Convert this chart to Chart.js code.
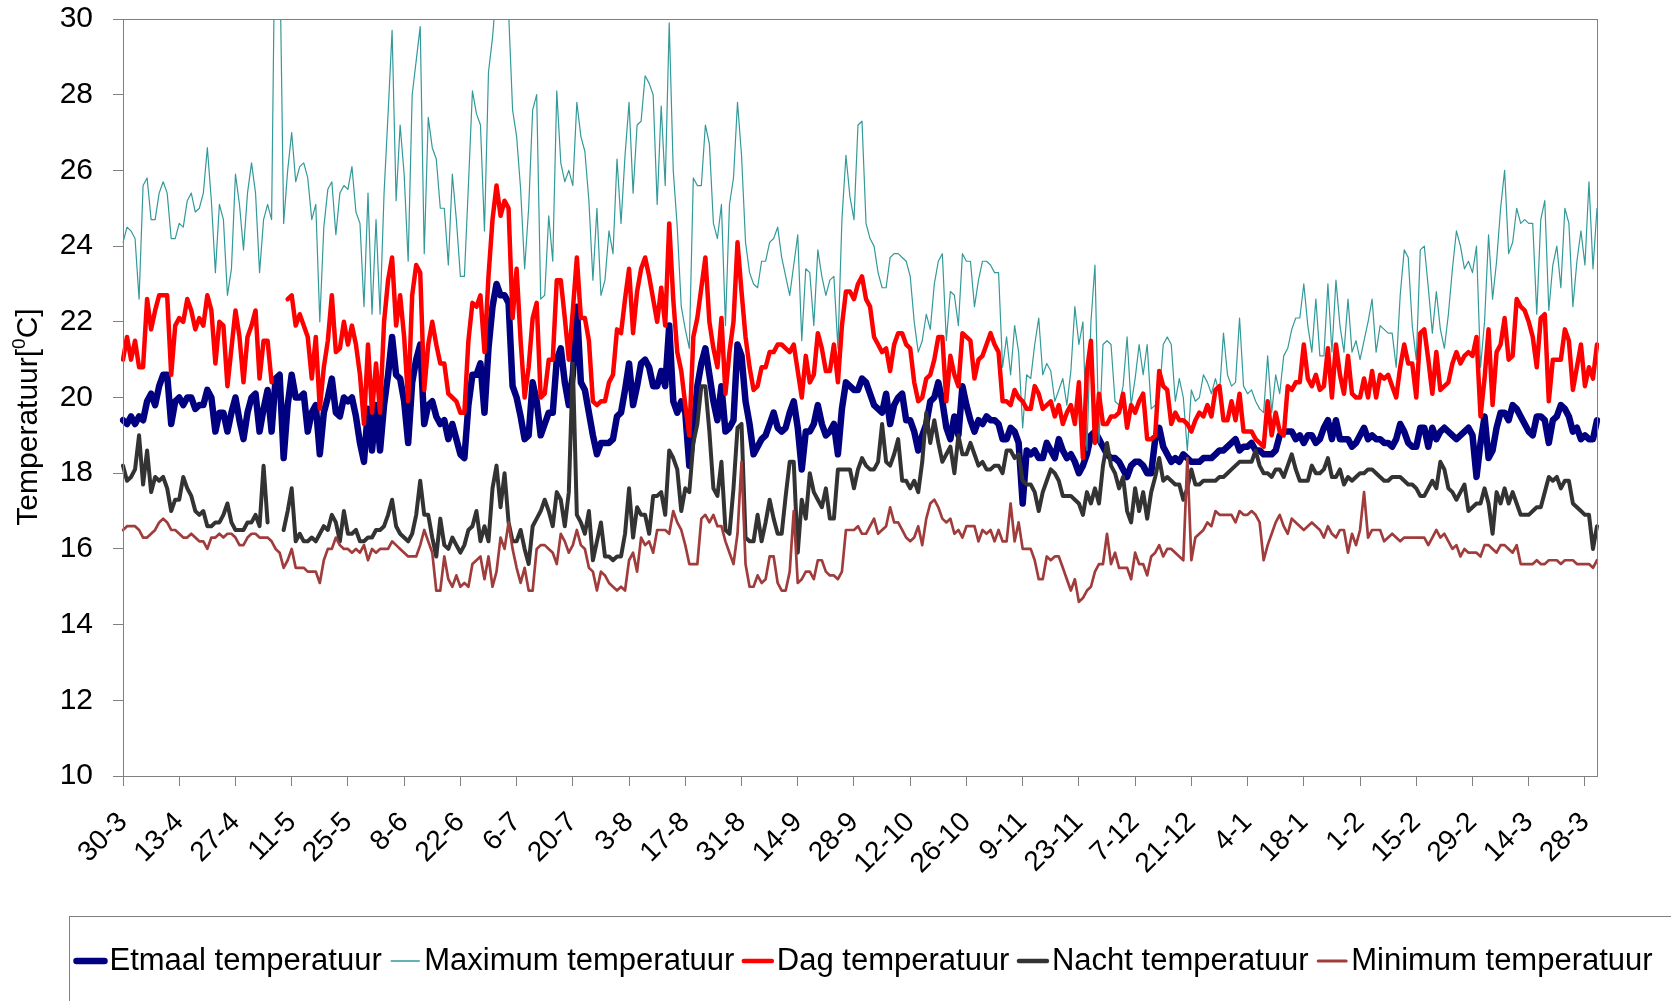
<!DOCTYPE html>
<html>
<head>
<meta charset="utf-8">
<title>Temperatuur</title>
<script src="https://cdn.jsdelivr.net/npm/chart.js@4.4.0/dist/chart.umd.min.js"></script>
<style>
  body { margin: 0; background: #fff; }
  canvas { display: block; }
</style>
</head>
<body>
<canvas id="myChart" width="1671" height="1001"></canvas>
<script>
// x axis: one category per day, a labelled tick every 14 days
const tickLabels = ['30-3', '13-4', '27-4', '11-5', '25-5', '8-6', '22-6', '6-7', '20-7', '3-8', '17-8', '31-8', '14-9', '28-9',
    '12-10', '26-10', '9-11', '23-11', '7-12', '21-12', '4-1', '18-1', '1-2', '15-2', '29-2', '14-3', '28-3'];
const firstDay = new Date(2007, 2, 30);
const dayCount = 368;
const days = [];
for (let i = 0; i < dayCount; i++) {
    const d = new Date(firstDay.getFullYear(), firstDay.getMonth(), firstDay.getDate() + i);
    days.push(d.getDate() + '-' + (d.getMonth() + 1));
}

// y axis
const yMin = 10, yMax = 30, yStep = 2;

// series (one value per day, null = no measurement)
const etmaal = [
    19.4, 19.3, 19.5, 19.3, 19.5, 19.4, 19.9, 20.1, 19.8, 20.3,
    20.6, 20.6, 19.3, 19.9, 20.0, 19.8, 20.0, 20.0, 19.7, 19.8,
    19.8, 20.2, 20.0, 19.1, 19.6, 19.6, 19.1, 19.6, 20.0, 19.4,
    18.9, 19.6, 20.0, 20.1, 19.1, 19.7, 20.2, 19.1, 20.5, 20.6,
    18.4, 19.8, 20.6, 20.0, 20.0, 20.1, 19.1, 19.6, 19.8, 18.5,
    19.6, 20.0, 20.5, 19.6, 19.5, 20.0, 19.9, 20.0, 19.5, 18.8,
    18.3, 19.7, 18.6, 19.8, 18.6, 19.8, 20.6, 21.6, 20.6, 20.5,
    19.9, 18.8, 20.4, 21.0, 21.4, 19.3, 19.8, 19.9, 19.5, 19.3,
    19.4, 18.9, 19.3, 18.9, 18.5, 18.4, 19.8, 20.6, 20.6, 20.9,
    19.6, 21.3, 22.4, 23.0, 22.7, 22.7, 22.5, 20.3, 20.0, 19.5,
    18.9, 19.0, 20.4, 19.9, 19.0, 19.3, 19.6, 19.6, 21.0, 21.3,
    20.4, 19.8, 20.6, 22.4, 20.4, 20.2, 19.6, 19.0, 18.5, 18.8,
    18.8, 18.8, 18.9, 19.5, 19.6, 20.2, 20.9, 19.8, 20.3, 20.9,
    21.0, 20.8, 20.3, 20.3, 20.7, 20.3, 21.9, 19.9, 19.6, 19.9,
    19.6, 18.2, 19.1, 20.3, 20.9, 21.3, 20.6, 19.9, 19.4, 20.3,
    19.1, 19.2, 19.4, 21.4, 21.1, 19.9, 19.3, 18.5, 18.7, 18.9,
    19.0, 19.3, 19.6, 19.2, 19.1, 19.2, 19.6, 19.9, 19.2, 18.1,
    19.1, 19.1, 19.3, 19.8, 19.3, 19.0, 19.1, 19.3, 18.5, 19.7,
    20.4, 20.3, 20.2, 20.2, 20.5, 20.4, 20.1, 19.8, 19.7, 19.6,
    20.1, 19.3, 19.8, 20.0, 20.1, 19.4, 19.4, 19.1, 18.6, 19.0,
    19.3, 19.9, 20.0, 20.4, 19.9, 19.2, 18.9, 19.5, 19.0, 20.3,
    19.8, 19.4, 19.1, 19.4, 19.3, 19.5, 19.4, 19.4, 19.3, 18.9,
    18.9, 19.2, 19.1, 18.8, 17.2, 18.6, 18.5, 18.6, 18.4, 18.4,
    18.8, 18.6, 18.4, 18.9, 18.6, 18.4, 18.5, 18.3, 18.0, 18.2,
    18.5, 19.0, 19.1, 18.9, 18.7, 18.5, 18.4, 18.4, 18.3, 18.1,
    17.9, 18.2, 18.3, 18.3, 18.2, 18.0, 18.0, 18.9, 19.2, 18.7,
    18.5, 18.3, 18.4, 18.3, 18.5, 18.4, 18.3, 18.3, 18.3, 18.4,
    18.4, 18.4, 18.5, 18.6, 18.6, 18.7, 18.8, 18.9, 18.6, 18.7,
    18.7, 18.8, 18.6, 18.6, 18.5, 18.5, 18.5, 18.6, 19.0, 19.1,
    19.1, 19.1, 18.9, 19.0, 18.8, 19.0, 19.0, 18.8, 18.9, 19.2,
    19.4, 18.9, 19.4, 18.9, 18.9, 18.9, 18.7, 18.8, 19.0, 19.2,
    18.9, 19.0, 18.9, 18.9, 18.8, 18.8, 18.7, 18.9, 19.3, 19.1,
    18.8, 18.7, 18.7, 19.2, 19.2, 18.7, 19.2, 18.9, 19.1, 19.2,
    19.1, 19.0, 18.9, 19.0, 19.1, 19.2, 19.0, 17.9, 18.8, 19.5,
    18.4, 18.6, 19.2, 19.6, 19.6, 19.4, 19.8, 19.7, 19.5, 19.3,
    19.1, 19.0, 19.5, 19.5, 19.4, 18.8, 19.4, 19.5, 19.8, 19.7,
    19.5, 19.1, 19.2, 18.9, 19.0, 18.9, 18.9, 19.4
];
const maximum = [
    24.1, 24.5, 24.4, 24.2, 22.6, 25.6, 25.8, 24.7, 24.7, 25.4,
    25.7, 25.4, 24.2, 24.2, 24.6, 24.5, 25.2, 25.4, 24.9, 25.0,
    25.4, 26.6, 25.2, 23.3, 25.1, 24.7, 22.7, 23.4, 25.9, 25.1,
    23.9, 25.4, 26.2, 25.4, 23.3, 24.7, 25.1, 24.7, 34.0, 32.0,
    24.6, 26.0, 27.0, 25.7, 26.1, 26.2, 25.8, 24.7, 25.1, 22.0,
    24.5, 25.5, 25.7, 24.3, 25.4, 25.6, 25.5, 26.1, 24.9, 24.6,
    22.4, 25.4, 22.2, 24.7, 22.2, 25.4, 27.5, 29.7, 25.2, 27.2,
    25.9, 23.6, 28.0, 28.9, 29.8, 23.8, 27.4, 26.6, 26.3, 25.0,
    25.0, 23.5, 25.9, 24.7, 23.2, 23.2, 25.6, 28.1, 27.5, 27.2,
    24.4, 28.6, 29.5, 30.8, 30.3, 31.0, 30.2, 27.6, 26.9, 25.5,
    23.4, 25.0, 27.6, 28.0, 22.6, 22.7, 24.8, 23.6, 28.1, 26.2,
    25.7, 26.0, 25.6, 27.8, 26.9, 26.5, 25.2, 23.1, 25.0, 22.7,
    23.1, 24.4, 23.8, 26.3, 24.6, 26.4, 27.8, 25.4, 27.2, 27.3,
    28.5, 28.3, 28.0, 25.1, 27.7, 25.6, 29.9, 26.0, 24.5, 22.4,
    21.8, 21.3, 25.8, 25.6, 25.6, 27.2, 26.7, 24.6, 24.2, 25.1,
    21.9, 25.1, 25.8, 27.8, 26.4, 24.1, 23.3, 23.0, 22.9, 23.6,
    23.6, 24.1, 24.2, 24.5, 23.7, 23.2, 22.7, 23.5, 24.3, 21.5,
    23.4, 23.3, 21.9, 23.9, 23.2, 22.7, 23.1, 23.2, 21.3, 24.7,
    26.4, 25.3, 24.7, 27.2, 27.3, 24.6, 24.2, 24.0, 23.3, 22.9,
    22.9, 23.7, 23.8, 23.8, 23.7, 23.6, 23.2, 22.0, 21.2, 21.5,
    22.2, 21.8, 23.0, 23.6, 23.8, 21.5, 22.8, 22.7, 21.9, 23.8,
    23.6, 23.6, 22.4, 23.1, 23.6, 23.6, 23.5, 23.3, 23.3, 20.8,
    21.6, 20.6, 21.9, 21.2, 19.2, 20.6, 20.5, 21.4, 22.1, 20.6,
    20.9, 20.7, 19.9, 20.2, 20.5, 19.8, 20.7, 22.4, 21.4, 22.0,
    18.6, 22.0, 23.5, 18.8, 21.4, 21.5, 21.4, 19.9, 19.8, 20.3,
    21.6, 19.8, 20.5, 21.4, 20.6, 21.4, 19.7, 19.8, 20.0, 21.4,
    21.6, 21.4, 19.9, 20.5, 20.0, 18.6, 20.2, 19.9, 20.0, 20.6,
    20.4, 20.1, 20.5, 20.1, 21.7, 20.6, 20.3, 20.4, 22.1, 20.3,
    20.1, 20.2, 19.9, 19.7, 19.6, 21.1, 19.6, 20.6, 20.1, 21.1,
    21.3, 21.8, 22.1, 22.1, 23.0, 21.9, 21.2, 22.6, 21.1, 21.1,
    23.0, 21.2, 23.1, 21.9, 21.2, 22.6, 21.2, 21.5, 21.0, 21.5,
    22.0, 22.6, 21.2, 21.9, 21.8, 21.7, 21.7, 20.8, 22.7, 23.9,
    23.7, 21.9, 21.0, 23.9, 24.0, 22.9, 21.7, 22.8, 21.8, 21.3,
    22.2, 23.4, 24.4, 24.0, 23.4, 23.6, 23.3, 24.0, 20.8, 22.0,
    24.3, 22.6, 23.6, 25.0, 26.0, 23.8, 24.1, 25.0, 24.6, 24.7,
    24.6, 24.6, 22.2, 24.7, 25.2, 22.3, 23.5, 24.0, 22.9, 25.0,
    24.6, 22.4, 23.6, 24.4, 23.5, 25.7, 23.4, 25.0
];
const dag = [
    21.0, 21.6, 21.0, 21.5, 20.8, 20.8, 22.6, 21.8, 22.3, 22.7,
    22.7, 22.7, 20.6, 21.9, 22.1, 22.0, 22.6, 22.3, 21.8, 22.1,
    21.9, 22.7, 22.3, 20.9, 22.0, 21.9, 20.3, 21.3, 22.3, 21.6,
    20.4, 21.6, 21.9, 22.3, 20.5, 21.5, 21.5, 20.4, null, null,
    null, 22.6, 22.7, 21.9, 22.2, 21.9, 21.6, 20.5, 21.6, 19.7,
    20.8, 21.5, 22.7, 21.2, 21.3, 22.0, 21.4, 21.9, 21.4, 20.6,
    19.3, 21.4, 19.6, 20.9, 19.6, 22.0, 23.1, 23.7, 21.9, 22.7,
    21.6, 19.9, 22.7, 23.5, 23.3, 20.2, 21.4, 22.0, 21.4, 20.9,
    20.9, 20.1, 20.0, 19.9, 19.6, 19.6, 21.5, 22.5, 22.4, 22.7,
    21.2, 23.2, 24.7, 25.6, 24.8, 25.2, 25.0, 22.1, 23.4, 21.5,
    20.0, 20.8, 22.1, 22.5, 20.0, 20.1, 21.0, 21.0, 23.1, 23.1,
    22.1, 21.0, 22.3, 23.7, 22.1, 22.1, 21.5, 19.9, 19.8, 19.9,
    19.9, 20.4, 20.6, 21.8, 21.7, 22.6, 23.4, 21.7, 22.8, 23.4,
    23.7, 23.2, 22.6, 22.0, 22.9, 21.9, 24.6, 22.6, 21.2, 20.7,
    19.8, 19.0, 21.6, 22.1, 22.9, 23.7, 22.0, 21.3, 20.8, 22.1,
    20.1, 21.2, 22.0, 24.1, 22.8, 21.6, 20.8, 20.2, 20.3, 20.8,
    20.8, 21.2, 21.2, 21.4, 21.4, 21.3, 21.2, 21.4, 20.7, 20.0,
    21.1, 20.4, 20.6, 21.7, 21.3, 20.7, 20.7, 21.4, 20.4, 21.9,
    22.8, 22.8, 22.6, 23.0, 23.2, 22.6, 22.4, 21.6, 21.4, 21.2,
    21.3, 20.7, 21.4, 21.7, 21.7, 21.4, 21.3, 20.4, 19.9, 20.0,
    20.5, 20.6, 21.0, 21.6, 21.6, 19.9, 21.1, 20.6, 20.3, 21.7,
    21.6, 21.5, 20.5, 21.0, 21.1, 21.4, 21.7, 21.4, 21.2, 19.9,
    19.9, 19.8, 20.2, 20.0, 19.9, 19.7, 19.7, 20.3, 20.1, 19.7,
    19.8, 19.9, 19.5, 19.8, 19.3, 19.6, 19.8, 19.3, 20.4, 18.4,
    20.7, 21.5, 18.8, 20.1, 19.3, 19.3, 19.5, 19.5, 19.6, 20.1,
    19.2, 19.8, 19.6, 19.9, 20.1, 18.9, 18.9, 19.0, 20.7, 20.3,
    20.2, 19.3, 19.6, 19.4, 19.4, 19.3, 19.1, 19.4, 19.6, 19.5,
    19.8, 19.5, 20.2, 20.3, 19.4, 19.4, 19.9, 19.4, 20.1, 19.1,
    19.1, 19.1, 18.9, 18.8, 18.7, 19.9, 19.0, 19.6, 19.1, 19.0,
    20.3, 20.2, 20.4, 20.4, 21.4, 20.5, 20.3, 20.6, 20.2, 20.3,
    21.3, 20.0, 21.4, 20.6, 20.1, 21.1, 20.1, 20.0, 20.0, 20.5,
    20.0, 20.7, 20.0, 20.6, 20.5, 20.6, 20.3, 20.0, 20.8, 21.4,
    20.9, 20.9, 20.0, 21.7, 21.8, 21.0, 20.1, 21.2, 20.2, 20.3,
    20.4, 20.9, 21.2, 20.9, 21.1, 21.2, 21.1, 21.6, 19.5, 20.5,
    21.8, 19.8, 21.2, 21.4, 22.1, 21.0, 21.1, 22.6, 22.4, 22.3,
    22.0, 21.6, 20.8, 22.1, 22.2, 19.9, 21.0, 21.0, 21.0, 21.8,
    21.5, 20.2, 20.8, 21.4, 20.3, 20.8, 20.5, 21.4
];
const nacht = [
    18.2, 17.8, 17.9, 18.1, 19.0, 17.7, 18.6, 17.5, 17.9, 17.8,
    17.9, 17.6, 17.0, 17.3, 17.3, 17.9, 17.6, 17.4, 17.0, 16.9,
    17.0, 16.6, 16.6, 16.7, 16.7, 16.9, 17.2, 16.7, 16.5, 16.5,
    16.5, 16.7, 16.7, 16.9, 16.6, 18.2, 16.7, null, null, null,
    16.5, 17.0, 17.6, 16.2, 16.4, 16.2, 16.2, 16.3, 16.2, 16.4,
    16.6, 16.5, 16.9, 16.7, 16.2, 17.0, 16.4, 16.4, 16.5, 16.2,
    16.2, 16.3, 16.3, 16.5, 16.5, 16.6, 16.9, 17.3, 16.6, 16.4,
    16.3, 16.2, 16.4, 16.9, 17.8, 16.9, 16.9, 16.3, 15.8, 16.8,
    16.1, 16.0, 16.3, 16.1, 15.9, 16.1, 16.5, 16.6, 17.0, 16.2,
    16.6, 16.2, 17.6, 18.2, 17.1, 18.0, 16.7, 16.2, 16.2, 16.5,
    16.0, 15.6, 16.6, 16.8, 17.0, 17.3, 17.0, 16.6, 17.5, 17.3,
    16.6, 17.5, 20.9, 16.9, 16.7, 16.4, 17.0, 15.7, 16.2, 16.7,
    15.8, 15.8, 15.7, 15.8, 15.8, 16.4, 17.6, 16.3, 17.1, 16.9,
    16.9, 16.4, 17.4, 17.4, 17.5, 16.9, 18.6, 18.4, 18.1, 17.0,
    17.6, 17.5, 18.8, 19.3, 20.3, 20.3, 19.1, 17.6, 17.4, 18.3,
    16.5, 16.4, 17.6, 19.2, 19.3, 16.3, 16.2, 16.2, 16.9, 16.2,
    16.7, 17.3, 16.8, 16.4, 16.4, 17.4, 18.3, 18.3, 15.9, 17.3,
    16.8, 18.0, 17.5, 17.3, 17.1, 17.6, 16.8, 16.8, 18.1, 18.1,
    18.1, 18.1, 17.6, 18.1, 18.4, 18.2, 18.1, 18.1, 18.3, 19.3,
    18.3, 18.2, 18.5, 18.9, 17.8, 17.8, 17.6, 17.8, 17.5, 18.3,
    19.6, 18.8, 19.4, 18.8, 18.3, 18.5, 18.7, 18.0, 19.0, 18.5,
    18.5, 18.8, 18.5, 18.2, 18.3, 18.1, 18.1, 18.2, 18.2, 18.0,
    18.6, 18.6, 18.4, 18.5, 17.8, 17.7, 17.7, 17.5, 17.0, 17.5,
    17.8, 18.1, 18.0, 17.8, 17.4, 17.4, 17.4, 17.3, 17.2, 16.9,
    17.5, 17.2, 17.6, 17.2, 18.2, 18.8, 18.2, 18.0, 17.6, 17.9,
    17.0, 16.7, 17.6, 17.0, 17.5, 16.8, 17.5, 17.9, 18.4, 17.8,
    17.9, 17.8, 17.7, 17.7, 17.3, 17.6, 18.1, 17.7, 17.7, 17.8,
    17.8, 17.8, 17.8, 17.9, 17.9, 18.0, 18.1, 18.2, 18.3, 18.3,
    18.3, 18.3, 18.6, 18.2, 18.0, 18.0, 17.9, 18.1, 18.1, 17.9,
    18.2, 18.5, 18.1, 17.8, 17.8, 17.8, 18.2, 18.0, 18.0, 18.1,
    18.4, 17.9, 17.9, 18.1, 17.7, 17.9, 17.8, 17.9, 18.0, 18.0,
    18.1, 18.1, 18.0, 17.9, 17.8, 17.8, 17.9, 17.9, 17.9, 17.8,
    17.7, 17.7, 17.6, 17.4, 17.4, 17.6, 17.8, 17.6, 18.3, 18.1,
    17.6, 17.5, 17.3, 17.5, 17.7, 17.0, 17.1, 17.2, 17.2, 17.6,
    17.2, 16.4, 17.5, 17.2, 17.6, 17.2, 17.5, 17.2, 16.9, 16.9,
    16.9, 17.0, 17.1, 17.1, 17.5, 17.9, 17.8, 17.9, 17.6, 17.8,
    17.8, 17.2, 17.1, 17.0, 16.9, 16.9, 16.0, 16.6
];
const minimum = [
    16.5, 16.6, 16.6, 16.6, 16.5, 16.3, 16.3, 16.4, 16.5, 16.7,
    16.8, 16.7, 16.5, 16.5, 16.4, 16.3, 16.3, 16.4, 16.3, 16.2,
    16.2, 16.0, 16.3, 16.3, 16.4, 16.3, 16.4, 16.4, 16.3, 16.1,
    16.1, 16.3, 16.4, 16.4, 16.3, 16.3, 16.3, 16.2, 16.0, 15.9,
    15.5, 15.7, 16.0, 15.5, 15.5, 15.5, 15.4, 15.4, 15.4, 15.1,
    15.7, 16.0, 16.0, 16.3, 16.1, 16.0, 16.0, 15.9, 16.0, 15.9,
    16.1, 15.7, 16.0, 15.9, 16.0, 16.0, 16.0, 16.2, 16.1, 16.0,
    15.9, 15.8, 15.8, 15.8, 16.1, 16.5, 16.2, 15.9, 14.9, 14.9,
    15.8, 15.2, 15.0, 15.3, 15.0, 15.1, 15.0, 15.6, 15.7, 15.8,
    15.2, 15.8, 15.0, 15.4, 16.3, 16.0, 16.7, 16.0, 15.5, 15.1,
    15.5, 14.9, 14.9, 16.0, 16.1, 16.1, 16.0, 15.9, 15.6, 16.4,
    16.2, 15.9, 16.1, 16.5, 16.1, 16.0, 15.5, 15.4, 14.9, 15.4,
    15.3, 15.1, 15.0, 14.9, 15.0, 14.9, 15.7, 15.9, 15.4, 16.3,
    16.1, 16.2, 15.9, 16.5, 16.5, 16.5, 16.4, 17.0, 16.7, 16.5,
    16.1, 15.6, 15.6, 15.6, 16.8, 16.9, 16.7, 16.9, 16.6, 16.6,
    16.2, 15.9, 15.6, 16.4, 18.3, 15.6, 15.0, 15.0, 15.3, 15.1,
    15.2, 15.8, 15.8, 15.1, 14.9, 14.9, 15.4, 17.0, 15.1, 15.2,
    15.4, 15.4, 15.2, 15.7, 15.7, 15.4, 15.3, 15.3, 15.2, 15.4,
    16.5, 16.5, 16.5, 16.6, 16.4, 16.4, 16.6, 16.8, 16.4, 16.5,
    16.6, 17.1, 16.7, 16.7, 16.5, 16.3, 16.2, 16.3, 16.6, 16.1,
    16.8, 17.2, 17.3, 17.1, 16.8, 16.7, 16.8, 16.4, 16.5, 16.3,
    16.6, 16.6, 16.6, 16.2, 16.5, 16.4, 16.5, 16.2, 16.5, 16.2,
    16.2, 17.2, 16.2, 16.7, 16.0, 16.0, 16.0, 15.7, 15.2, 15.2,
    15.8, 15.7, 15.8, 15.8, 15.5, 15.2, 14.9, 15.2, 14.6, 14.7,
    14.9, 15.0, 15.4, 15.6, 15.6, 16.4, 15.6, 15.9, 15.5, 15.5,
    15.5, 15.2, 15.9, 15.6, 15.6, 15.3, 15.8, 15.9, 16.1, 15.8,
    16.0, 16.0, 15.9, 15.8, 15.7, 18.4, 15.7, 16.3, 16.4, 16.5,
    16.7, 16.6, 17.0, 16.9, 16.9, 16.9, 16.9, 16.7, 17.0, 16.9,
    16.9, 17.0, 16.9, 16.7, 15.7, 16.1, 16.4, 16.7, 16.9, 16.6,
    16.4, 16.8, 16.7, 16.6, 16.5, 16.6, 16.7, 16.6, 16.5, 16.3,
    16.6, 16.4, 16.3, 16.5, 16.5, 15.9, 16.4, 16.1, 16.5, 17.5,
    16.3, 16.5, 16.5, 16.5, 16.2, 16.3, 16.4, 16.3, 16.2, 16.3,
    16.3, 16.3, 16.3, 16.3, 16.3, 16.1, 16.3, 16.5, 16.3, 16.4,
    16.2, 16.0, 16.1, 15.8, 16.0, 15.9, 15.9, 15.9, 15.8, 16.1,
    16.1, 16.0, 15.9, 16.1, 16.1, 16.0, 15.9, 16.1, 15.6, 15.6,
    15.6, 15.6, 15.7, 15.6, 15.6, 15.7, 15.7, 15.7, 15.6, 15.7,
    15.7, 15.7, 15.6, 15.6, 15.6, 15.6, 15.5, 15.7
];

const fontFamily = '"Liberation Sans", Arial, sans-serif';
const axisGrey = '#808080';

// plot frame, boxed legend and axis title with superscript
const extras = {
    id: 'extras',
    afterDatasetsDraw(chart) {
        const a = chart.chartArea;
        const ctx = chart.ctx;
        ctx.save();
        ctx.strokeStyle = axisGrey;
        ctx.lineWidth = 1;
        ctx.strokeRect(Math.round(a.left) + 0.5, Math.round(a.top) + 0.5,
            Math.round(a.right - a.left), Math.round(a.bottom - a.top));
        ctx.restore();
    },
    afterDraw(chart) {
        const ctx = chart.ctx;
        ctx.save();

        // legend box
        ctx.strokeStyle = axisGrey;
        ctx.lineWidth = 1;
        ctx.strokeRect(69.5, 916.5, 1700, 200);

        // legend items
        ctx.font = '31px ' + fontFamily;
        ctx.textBaseline = 'middle';
        ctx.fillStyle = '#000';
        let x = 74.5;
        const y = 961;
        chart.data.datasets.forEach(ds => {
            ctx.strokeStyle = ds.borderColor;
            ctx.lineWidth = ds.legendWidth;
            ctx.lineCap = 'round';
            ctx.beginPath();
            ctx.moveTo(x + 2, y);
            ctx.lineTo(x + 30, y);
            ctx.stroke();
            x += 35;
            ctx.fillText(ds.label, x, y);
            x += ctx.measureText(ds.label).width + 7.5;
        });

        // y axis title: Temperatuur[0C] with superscript 0
        ctx.translate(29, 417);
        ctx.rotate(-Math.PI / 2);
        const big = '30px ' + fontFamily, small = '19px ' + fontFamily;
        ctx.font = big;
        const w1 = ctx.measureText('Temperatuur[').width;
        const w3 = ctx.measureText('C]').width;
        ctx.font = small;
        const w2 = ctx.measureText('0').width;
        let tx = -(w1 + w2 + w3) / 2;
        ctx.font = big;
        ctx.fillText('Temperatuur[', tx, 0);
        tx += w1;
        ctx.font = small;
        ctx.fillText('0', tx, -9);
        tx += w2;
        ctx.font = big;
        ctx.fillText('C]', tx, 0);
        ctx.restore();
    }
};

new Chart(document.getElementById('myChart'), {
    type: 'line',
    data: {
        labels: days,
        datasets: [
            { label: 'Etmaal temperatuur', data: etmaal, borderColor: '#000080', borderWidth: 6.5, legendWidth: 6.5, order: 5 },
            { label: 'Maximum temperatuur', data: maximum, borderColor: '#339999', borderWidth: 1.2, legendWidth: 1.5, order: 4 },
            { label: 'Dag temperatuur', data: dag, borderColor: '#ff0000', borderWidth: 4.5, legendWidth: 4.5, order: 3 },
            { label: 'Nacht temperatuur', data: nacht, borderColor: '#333333', borderWidth: 4, legendWidth: 4.5, order: 2 },
            { label: 'Minimum temperatuur', data: minimum, borderColor: '#a03c3c', borderWidth: 2.7, legendWidth: 3, order: 1 }
        ]
    },
    options: {
        responsive: false,
        animation: false,
        devicePixelRatio: 1,
        spanGaps: false,
        layout: { padding: { top: 19, right: 74, left: 0, bottom: 0 } },
        elements: {
            point: { radius: 0, hoverRadius: 0 },
            line: { tension: 0, borderJoinStyle: 'round', borderCapStyle: 'round', fill: false }
        },
        plugins: {
            legend: { display: false },
            tooltip: { enabled: false }
        },
        scales: {
            x: {
                ticks: {
                    autoSkip: false,
                    minRotation: 45,
                    maxRotation: 45,
                    padding: 20,
                    color: '#000',
                    font: { family: fontFamily, size: 28 },
                    callback: (value, index) => index % 14 === 0 ? tickLabels[index / 14] : ''
                },
                grid: {
                    drawOnChartArea: false,
                    tickLength: 10,
                    tickColor: c => c.index % 14 === 0 ? axisGrey : 'rgba(0,0,0,0)'
                },
                border: { color: axisGrey },
                afterFit: scale => {
                    scale.height = 225;
                    scale.paddingLeft = 0;
                    scale.paddingRight = 0;
                }
            },
            y: {
                min: yMin,
                max: yMax,
                ticks: {
                    stepSize: yStep,
                    padding: 20,
                    color: '#000',
                    font: { family: fontFamily, size: 30 }
                },
                grid: { drawOnChartArea: false, tickLength: 10, tickColor: axisGrey },
                border: { color: axisGrey },
                afterFit: scale => {
                    scale.width = 123;
                    scale.paddingTop = 0;
                    scale.paddingBottom = 0;
                }
            }
        }
    },
    plugins: [extras]
});
</script>
</body>
</html>
